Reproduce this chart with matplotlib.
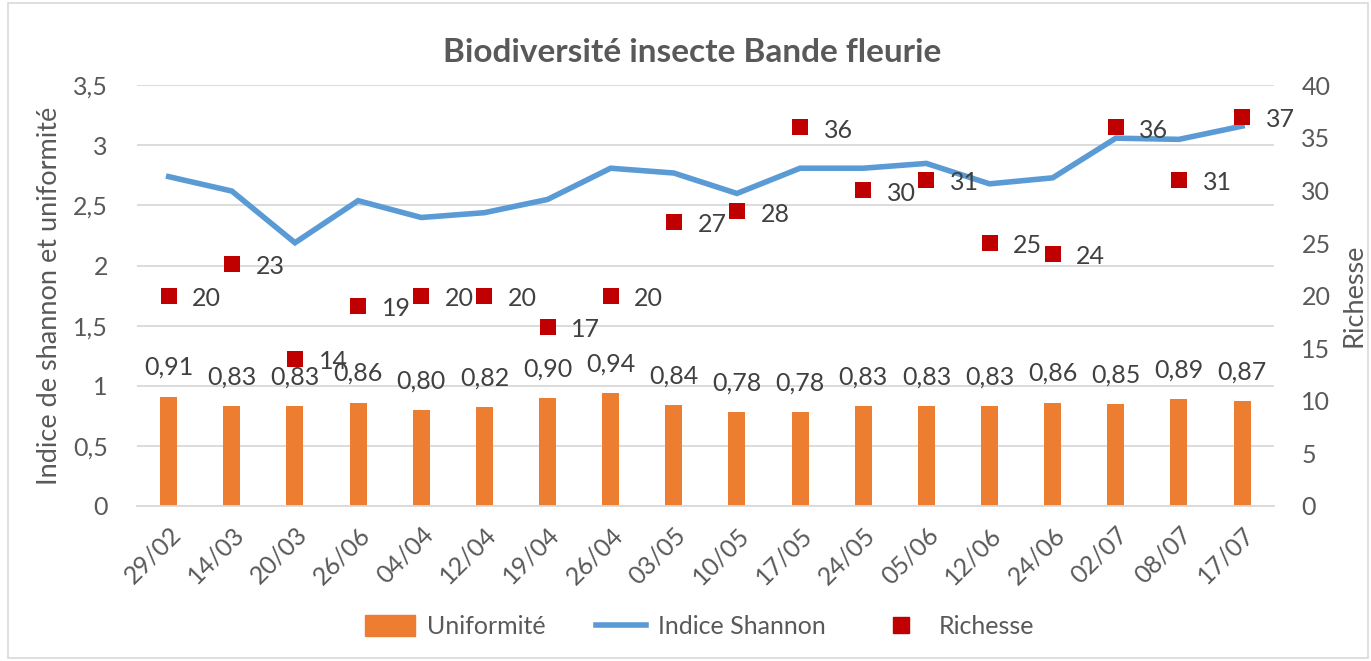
import matplotlib
matplotlib.use("Agg")
import matplotlib.pyplot as plt
from matplotlib.patches import Rectangle
from matplotlib.lines import Line2D
from matplotlib.ticker import FuncFormatter

plt.rcParams['font.family'] = ['Lato', 'DejaVu Sans']

# ---- data ----
dates = ["29/02", "14/03", "20/03", "26/06", "04/04", "12/04", "19/04", "26/04", "03/05",
         "10/05", "17/05", "24/05", "05/06", "12/06", "24/06", "02/07", "08/07", "17/07"]
uniformite = [0.91, 0.83, 0.83, 0.86, 0.80, 0.82, 0.90, 0.94, 0.84,
              0.78, 0.78, 0.83, 0.83, 0.83, 0.86, 0.85, 0.89, 0.87]
shannon = [2.74, 2.62, 2.19, 2.54, 2.40, 2.44, 2.55, 2.81, 2.77,
           2.60, 2.81, 2.81, 2.85, 2.68, 2.73, 3.06, 3.05, 3.16]
richesse = [20, 23, 14, 19, 20, 20, 17, 20, 27, 28, 36, 30, 31, 25, 24, 36, 31, 37]

ORANGE = "#ED7D31"
BLUE = "#5B9BD5"
RED = "#C00000"
GREY = "#595959"
DARK = "#404040"
GRID = "#D9D9D9"
FS = 18

fig = plt.figure(figsize=(13.71, 6.61), dpi=100)
ax = fig.add_axes([0.1, 0.2345, 0.829, 0.6365])
ax2 = ax.twinx()

x = list(range(len(dates)))

# bars + line on left axis
ax.bar(x, uniformite, width=0.27, color=ORANGE, zorder=2)
ax.plot(x, shannon, color=BLUE, linewidth=4, zorder=3, solid_joinstyle='miter')
for i, u in enumerate(uniformite):
    ax.annotate(f"{u:.2f}".replace(".", ","), (i, u), xytext=(0, 21), textcoords="offset points",
                ha="center", va="center", fontsize=FS, color=DARK, zorder=4)

# richesse on right axis
ax2.scatter(x, richesse, marker="s", s=130, color=RED, zorder=4, linewidths=0)
for i, r in enumerate(richesse):
    ax2.annotate(str(r), (i, r), xytext=(17, -2), textcoords="offset points",
                 ha="left", va="center", fontsize=FS, color=DARK)

ax.set_xlim(-0.5, len(dates) - 0.5)
ax.set_ylim(0, 3.5)
ax2.set_ylim(0, 40)
ax.set_yticks([0, 0.5, 1, 1.5, 2, 2.5, 3, 3.5])
ax.yaxis.set_major_formatter(FuncFormatter(lambda v, p: f"{v:g}".replace(".", ",")))
ax2.set_yticks(range(0, 41, 5))

ax.grid(axis="y", color=GRID, linewidth=1.3, zorder=0)
ax.set_axisbelow(True)
for a in (ax, ax2):
    for s in a.spines.values():
        s.set_visible(False)
    a.tick_params(length=0, labelsize=FS, colors=GREY)
ax.spines["bottom"].set_visible(True)
ax.spines["bottom"].set_color(GRID)
ax.spines["bottom"].set_linewidth(1.3)

ax.set_xticks(x)
ax.set_xticklabels(dates, rotation=45, ha="right", va="top", rotation_mode="anchor")
ax.tick_params(axis="x", pad=12)
ax.tick_params(axis="y", pad=21)
ax2.tick_params(axis="y", pad=20)

ax.set_ylabel("Indice de shannon et uniformité", fontsize=19.5, color=GREY, labelpad=8)
ax2.set_ylabel("Richesse", fontsize=19.5, color=GREY, labelpad=8)

fig.text(0.505, 0.92, "Biodiversité insecte Bande fleurie", ha="center", va="center",
         fontsize=24, fontweight="bold", color=GREY)

handles = [Rectangle((0, 0), 1, 1, color=ORANGE),
           Line2D([0], [0], color=BLUE, linewidth=4),
           Line2D([0], [0], marker="s", linestyle="none", color=RED, markersize=11)]
fig.legend(handles, ["Uniformité", "Indice Shannon", "Richesse"], loc="center",
           bbox_to_anchor=(0.51, 0.052), ncol=3, frameon=False, fontsize=FS,
           labelcolor=GREY, handlelength=2.0, handleheight=0.9, columnspacing=2.0,
           handletextpad=0.5)

# chart border
fig.patches.append(Rectangle((0.006, 0.005), 0.992, 0.99, transform=fig.transFigure,
                             fill=False, edgecolor=GRID, linewidth=1.2))

fig.savefig("out.png", dpi=100)
